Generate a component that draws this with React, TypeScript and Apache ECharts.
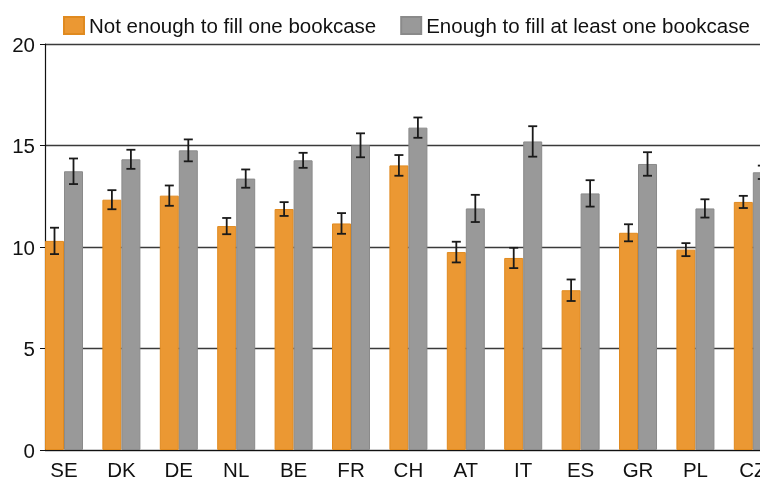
import React, { useEffect, useRef } from "react";
import * as echarts from "echarts";

const categories = ["SE", "DK", "DE", "NL", "BE", "FR", "CH", "AT", "IT", "ES", "GR", "PL", "CZ"];
const seriesNames = ["Not enough to fill one bookcase", "Enough to fill at least one bookcase"];
const notEnough = [10.3, 12.33, 12.53, 11.03, 11.87, 11.16, 14.02, 9.75, 9.46, 7.87, 10.7, 9.87, 12.22];
const notEnoughErr = [0.65, 0.47, 0.5, 0.4, 0.34, 0.51, 0.51, 0.51, 0.5, 0.53, 0.42, 0.32, 0.3];
const enough = [13.73, 14.32, 14.76, 13.37, 14.27, 15.01, 15.88, 11.9, 15.2, 12.64, 14.09, 11.9, 13.68];
const enoughErr = [0.63, 0.47, 0.54, 0.45, 0.37, 0.59, 0.5, 0.67, 0.75, 0.65, 0.58, 0.45, 0.33];
const yTicks = [0, 5, 10, 15, 20];

const FONT = "'Liberation Sans', Arial, sans-serif";
const BAR_W = 19;
const FS = 20.5;

export default function App() {
  const ref = useRef<HTMLDivElement>(null);
  useEffect(() => {
    if (!ref.current) return;
    const chart = echarts.init(ref.current, undefined, { renderer: "svg" });
    const idx = categories.map((_, i) => i);
    const errData = (vals: number[], errs: number[]) =>
      vals.map((v, i) => [i, v - errs[i], v + errs[i]]);
    const makeErr = (shift: number) => (params: any, api: any) => {
      const x = api.value(0);
      const lo = api.coord([x, api.value(1)]);
      const hi = api.coord([x, api.value(2)]);
      const cx = lo[0] + shift;
      const cap = 4.5;
      const style = { stroke: "#1a1a1a", lineWidth: 1.8 };
      return {
        type: "group",
        children: [
          { type: "line", shape: { x1: cx, y1: lo[1], x2: cx, y2: hi[1] }, style },
          { type: "line", shape: { x1: cx - cap, y1: lo[1], x2: cx + cap, y2: lo[1] }, style },
          { type: "line", shape: { x1: cx - cap, y1: hi[1], x2: cx + cap, y2: hi[1] }, style },
        ],
      };
    };
    chart.setOption({
      animation: false,
      textStyle: { fontFamily: FONT },
      legend: {
        left: 58,
        top: 10,
        itemWidth: 20,
        itemHeight: 17,
        itemGap: 24,
        icon: "rect",
        textStyle: { fontSize: FS, color: "#111", fontFamily: FONT },
        data: seriesNames,
      },
      grid: { left: 45, top: 44, right: 0, bottom: 38, containLabel: false, outerBoundsMode: "none" },
      xAxis: {
        type: "value",
        min: -0.331,
        max: 12.125,
        axisLine: { show: true, onZero: false, lineStyle: { color: "#111", width: 1.2 } },
        axisTick: { show: false },
        splitLine: { show: false },
        axisLabel: {
          customValues: idx,
          formatter: (v: number) => categories[Math.round(v)] ?? "",
          fontSize: FS,
          color: "#111",
          margin: 9,
          fontFamily: FONT,
          hideOverlap: false,
        },
      },
      yAxis: {
        type: "value",
        min: yTicks[0],
        max: yTicks[yTicks.length - 1],
        interval: 5,
        axisLine: { show: true, onZero: false, lineStyle: { color: "#111", width: 1.2 } },
        axisTick: { show: true, length: 5, lineStyle: { color: "#111" } },
        axisLabel: { fontSize: FS, color: "#111", margin: 10, fontFamily: FONT },
        splitLine: { show: true, lineStyle: { color: "#3a3a3a", width: 1.4 } },
      },
      series: [
        {
          name: seriesNames[0],
          type: "bar",
          barWidth: BAR_W,
          barGap: "0%",
          itemStyle: { color: "#EB9833", borderColor: "#E08A1F", borderWidth: 1 },
          data: notEnough.map((v, i) => [i, v]),
        },
        {
          name: seriesNames[1],
          type: "bar",
          barWidth: BAR_W,
          barGap: "0%",
          itemStyle: { color: "#999999", borderColor: "#8a8a8a", borderWidth: 1 },
          data: enough.map((v, i) => [i, v]),
        },
        {
          type: "custom",
          renderItem: makeErr(-BAR_W / 2),
          data: errData(notEnough, notEnoughErr),
          z: 5,
          silent: true,
        },
        {
          type: "custom",
          renderItem: makeErr(BAR_W / 2),
          data: errData(enough, enoughErr),
          z: 5,
          silent: true,
        },
      ],
    });
    return () => chart.dispose();
  }, []);
  return <div ref={ref} style={{ width: 760, height: 488, position: "fixed", left: 0, top: 0 }} />;
}
